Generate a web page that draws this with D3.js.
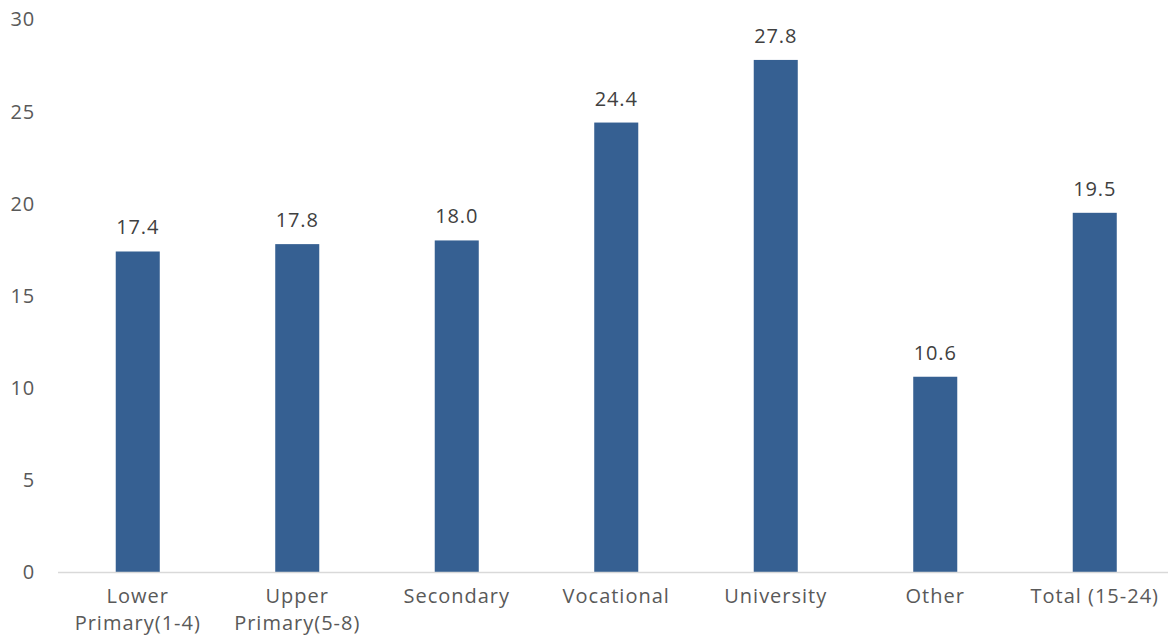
<!DOCTYPE html>
<html><head><meta charset="utf-8">
<script src="https://cdn.jsdelivr.net/npm/d3@7"></script>
<style>body{margin:0;background:#fff}svg{display:block}</style>
</head><body>
<svg id="c" width="1168" height="636"></svg>
<script>
(function(){
const categories = [["Lower","Primary(1-4)"],["Upper","Primary(5-8)"],["Secondary"],["Vocational"],["University"],["Other"],["Total (15-24)"]];
const values = [17.4, 17.8, 18.0, 24.4, 27.8, 10.6, 19.5];
const yTicks = [0,5,10,15,20,25,30];

const svg = d3.select("#c");
const mLeft = 58, mRight = 1174.5, mTop = 19.4, mBottom = 572;
const font = "'Open Sans', Lato, sans-serif";
const x = d3.scaleBand().domain(d3.range(values.length)).range([mLeft, mRight]).paddingInner(0.724).paddingOuter(0.362);
const y = d3.scaleLinear().domain([0,30]).range([mBottom, mTop]);

svg.append("g").selectAll("text").data(yTicks).join("text")
  .attr("x", 35).attr("y", d => y(d)).attr("dy", "0.35em")
  .attr("text-anchor", "end").attr("font-family", font).attr("font-size", 20)
  .attr("letter-spacing", 0.8)
  .attr("fill", "#595959").text(d => d);

svg.append("g").selectAll("rect").data(values).join("rect")
  .attr("x", (d,i) => x(i)).attr("width", x.bandwidth())
  .attr("y", d => y(d)).attr("height", d => mBottom - y(d))
  .attr("fill", "#366092");

svg.append("line").attr("x1", mLeft).attr("x2", 1168).attr("y1", mBottom+0.5).attr("y2", mBottom+0.5)
  .attr("stroke", "#d9d9d9").attr("stroke-width", 1.5);

svg.append("g").selectAll("text").data(values).join("text")
  .attr("x", (d,i) => x(i) + x.bandwidth()/2).attr("y", d => y(d) - 17)
  .attr("text-anchor", "middle").attr("font-family", font).attr("font-size", 20)
  .attr("letter-spacing", 0.8)
  .attr("fill", "#404040").text(d => d.toFixed(1));

const lines = [];
categories.forEach((c, i) => c.forEach((t, j) => lines.push({i, j, t})));
svg.append("g").selectAll("text").data(lines).join("text")
  .attr("x", d => x(d.i) + x.bandwidth()/2).attr("y", d => 603 + d.j * 27)
  .attr("text-anchor", "middle").attr("font-family", font).attr("font-size", 20)
  .attr("letter-spacing", 1)
  .attr("fill", "#595959").text(d => d.t);
})();
</script>
</body></html>
